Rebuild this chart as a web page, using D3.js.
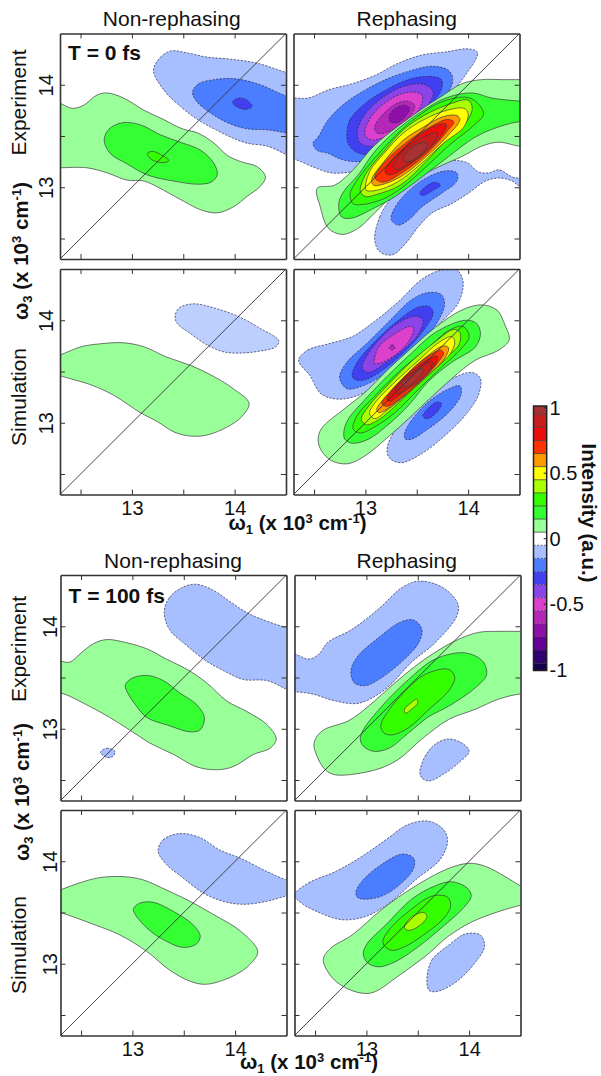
<!DOCTYPE html>
<html><head><meta charset="utf-8">
<script src="https://cdnjs.cloudflare.com/ajax/libs/d3/7.8.5/d3.min.js"></script>
<style>html,body{margin:0;padding:0;background:#fff}svg{display:block}text{font-family:"Liberation Sans",Arial,sans-serif;fill:#111}</style>
</head><body><svg id="c" width="601" height="1076"></svg>
<script>
// Axis values (x 10^3 cm^-1)
const axisDomain = [12.3, 14.5];
const majorTicks = [13, 14];
const allTicks = [12.5, 13, 13.5, 14];
const colorTicks = [1, 0.5, 0, -0.5, -1];
const bandCentres = [-1,-0.9,-0.8,-0.7,-0.6,-0.5,-0.4,-0.3,-0.2,-0.1,0,0.1,0.2,0.3,0.4,0.5,0.6,0.7,0.8,0.9,1];
const levelColour = new Map([[1,"#a83232"],[0.9,"#c81e1e"],[0.8,"#ee0d0d"],[0.7,"#ff3300"],[0.6,"#ff9900"],[0.5,"#ffff00"],[0.4,"#aaff00"],[0.3,"#33ff00"],[0.2,"#33ff33"],[0.1,"#99ff99"],[0,"#ffffff"],
 [-0.1,"#a8bfff"],[-0.2,"#4a7dff"],[-0.3,"#4040f0"],[-0.4,"#8a44e8"],[-0.5,"#dc40cc"],[-0.6,"#b428b8"],[-0.7,"#8f10a8"],[-0.8,"#660099"],[-0.9,"#33006f"],[-1,"#14004f"]]);

// Contours: [level, [[w1,w3],...]]
const expNonReph0 = [
 [0.1,[[12.21,13.85],[12.30,13.82],[12.42,13.77],[12.53,13.80],[12.66,13.90],[12.76,13.92],[12.92,13.87],[13.12,13.75],[13.31,13.66],[13.49,13.57],[13.64,13.53],[13.80,13.43],[13.93,13.31],[14.06,13.25],[14.22,13.20],[14.30,13.10],[14.25,13.01],[14.12,12.91],[13.99,12.81],[13.83,12.75],[13.67,12.78],[13.51,12.86],[13.31,12.97],[13.12,13.06],[12.95,13.07],[12.76,13.14],[12.56,13.19],[12.30,13.19],[12.21,13.19]]],
 [0.2,[[12.73,13.46],[12.78,13.57],[12.91,13.63],[13.08,13.61],[13.28,13.51],[13.47,13.44],[13.67,13.36],[13.80,13.23],[13.83,13.12],[13.77,13.05],[13.64,13.03],[13.41,13.06],[13.15,13.12],[12.95,13.23],[12.79,13.33]]],
 [0.3,[[13.15,13.33],[13.20,13.35],[13.28,13.32],[13.36,13.26],[13.31,13.24],[13.21,13.26],[13.17,13.29]]],
 [-0.1,[[13.21,14.14],[13.28,14.27],[13.38,14.33],[13.54,14.31],[13.73,14.27],[13.96,14.25],[14.22,14.21],[14.5,14.12],[14.61,14.09],[14.61,13.27],[14.5,13.32],[14.32,13.40],[14.12,13.43],[13.96,13.49],[13.80,13.57],[13.64,13.66],[13.47,13.79],[13.31,13.95]]],
 [-0.2,[[13.59,13.93],[13.65,14.01],[13.80,14.05],[13.99,14.06],[14.22,14.01],[14.5,13.89],[14.61,13.85],[14.61,13.51],[14.5,13.53],[14.32,13.56],[14.12,13.57],[13.93,13.63],[13.73,13.75],[13.62,13.85]]],
 [-0.3,[[13.98,13.83],[14.04,13.87],[14.12,13.85],[14.17,13.79],[14.11,13.76],[14.03,13.78]]]
];
const expReph0 = [
 [0.1,[[12.53,12.99],[12.70,13.02],[12.88,13.17],[13.08,13.40],[13.31,13.59],[13.53,13.75],[13.73,13.88],[13.94,14.01],[14.13,14.05],[14.33,14.05],[14.5,14.05],[14.62,14.05],[14.62,13.40],[14.5,13.40],[14.30,13.44],[14.13,13.40],[13.94,13.30],[13.78,13.23],[13.52,13.10],[13.29,12.94],[13.09,12.75],[12.93,12.60],[12.77,12.54],[12.64,12.60],[12.56,12.81]]],
 [0.2,[[12.74,12.84],[12.79,12.96],[12.93,13.12],[13.10,13.36],[13.33,13.58],[13.55,13.74],[13.78,13.87],[14.04,13.92],[14.23,13.87],[14.5,13.84],[14.62,13.83],[14.62,13.64],[14.5,13.64],[14.30,13.59],[14.07,13.49],[13.81,13.30],[13.55,13.10],[13.29,12.91],[13.09,12.80],[12.87,12.70],[12.77,12.71]]],
 [0.3,[[12.85,12.93],[12.90,13.04],[13.06,13.25],[13.14,13.34],[13.35,13.56],[13.55,13.72],[13.76,13.84],[14.02,13.87],[14.15,13.72],[14.04,13.59],[13.84,13.43],[13.58,13.19],[13.35,12.99],[13.16,12.88],[12.96,12.83],[12.88,12.84]]],
 [0.4,[[12.95,12.96],[13.01,13.14],[13.18,13.35],[13.37,13.56],[13.57,13.70],[13.79,13.80],[14.0,13.85],[14.04,13.77],[13.97,13.62],[13.79,13.46],[13.57,13.23],[13.34,13.02],[13.11,12.93],[13.0,12.91]]],
 [0.5,[[13.0,13.01],[13.05,13.17],[13.18,13.33],[13.37,13.53],[13.57,13.66],[13.79,13.75],[13.96,13.77],[14.0,13.72],[13.96,13.59],[13.76,13.43],[13.53,13.22],[13.31,13.05],[13.11,12.97],[13.01,12.97]]],
 [0.6,[[13.06,13.07],[13.18,13.25],[13.37,13.46],[13.57,13.59],[13.76,13.69],[13.89,13.70],[13.92,13.66],[13.79,13.49],[13.57,13.28],[13.34,13.10],[13.14,13.02],[13.08,13.02]]],
 [0.7,[[13.09,13.10],[13.21,13.27],[13.39,13.43],[13.60,13.57],[13.79,13.66],[13.86,13.64],[13.79,13.54],[13.60,13.33],[13.37,13.15],[13.18,13.05],[13.11,13.07]]],
 [0.8,[[13.19,13.15],[13.27,13.28],[13.44,13.44],[13.60,13.56],[13.74,13.62],[13.79,13.61],[13.73,13.49],[13.57,13.33],[13.37,13.18],[13.24,13.12]]],
 [0.9,[[13.27,13.20],[13.35,13.33],[13.48,13.44],[13.61,13.51],[13.70,13.53],[13.68,13.46],[13.57,13.33],[13.42,13.23],[13.31,13.17]]],
 [1,[[13.37,13.28],[13.44,13.38],[13.53,13.43],[13.60,13.43],[13.58,13.36],[13.50,13.29],[13.42,13.25],[13.38,13.25]]],
 [-0.1,[[12.19,13.86],[12.31,13.87],[12.44,13.87],[12.64,13.95],[12.87,14.01],[13.09,14.09],[13.32,14.21],[13.55,14.29],[13.78,14.32],[14.0,14.35],[14.09,14.32],[14.08,14.26],[13.97,14.09],[13.81,13.88],[13.58,13.62],[13.35,13.40],[13.13,13.20],[12.87,13.15],[12.67,13.14],[12.51,13.19],[12.31,13.27],[12.19,13.27]]],
 [-0.2,[[12.49,13.43],[12.54,13.49],[12.64,13.66],[12.80,13.82],[13.0,13.95],[13.22,14.06],[13.45,14.14],[13.65,14.18],[13.81,14.14],[13.85,14.05],[13.78,13.88],[13.61,13.69],[13.39,13.46],[13.16,13.30],[12.93,13.25],[12.77,13.27],[12.64,13.33],[12.53,13.36]]],
 [-0.3,[[12.82,13.53],[12.85,13.66],[13.0,13.82],[13.22,13.96],[13.45,14.06],[13.65,14.08],[13.74,14.05],[13.74,13.95],[13.65,13.82],[13.45,13.59],[13.22,13.40],[13.03,13.32],[12.90,13.35],[12.83,13.43]]],
 [-0.4,[[12.92,13.53],[12.98,13.69],[13.16,13.87],[13.39,13.99],[13.58,14.0],[13.66,13.93],[13.61,13.80],[13.45,13.61],[13.26,13.46],[13.06,13.40],[12.95,13.43]]],
 [-0.5,[[13.0,13.57],[13.08,13.72],[13.26,13.87],[13.44,13.93],[13.55,13.90],[13.55,13.82],[13.44,13.66],[13.26,13.53],[13.08,13.46],[13.0,13.5]]],
 [-0.6,[[13.09,13.59],[13.16,13.70],[13.29,13.81],[13.41,13.84],[13.48,13.80],[13.44,13.70],[13.32,13.59],[13.19,13.53],[13.11,13.53]]],
 [-0.7,[[13.23,13.69],[13.29,13.77],[13.39,13.80],[13.43,13.77],[13.39,13.69],[13.31,13.63],[13.24,13.64]]],
 [-0.1,[[13.09,12.49],[13.14,12.71],[13.26,12.91],[13.45,13.10],[13.65,13.2],[13.84,13.26],[13.99,13.24],[14.10,13.15],[14.20,13.14],[14.30,13.17],[14.43,13.10],[14.5,13.09],[14.62,13.09],[14.62,12.99],[14.5,13.01],[14.43,13.06],[14.30,13.09],[14.17,13.06],[14.0,12.94],[13.84,12.84],[13.65,12.75],[13.52,12.62],[13.39,12.45],[13.26,12.34],[13.14,12.37]]],
 [-0.2,[[13.25,12.71],[13.31,12.84],[13.45,12.99],[13.61,13.10],[13.78,13.16],[13.89,13.14],[13.89,13.06],[13.74,12.94],[13.55,12.81],[13.42,12.68],[13.32,12.63],[13.26,12.67]]],
 [-0.3,[[13.53,12.94],[13.58,13.0],[13.68,13.05],[13.73,13.02],[13.66,12.97],[13.56,12.92]]]
];
const simNonReph0 = [
 [0.1,[[12.21,13.63],[12.30,13.66],[12.5,13.74],[12.69,13.77],[12.92,13.78],[13.12,13.74],[13.34,13.64],[13.57,13.56],[13.80,13.45],[13.99,13.33],[14.14,13.19],[14.07,13.06],[13.93,12.96],[13.73,12.88],[13.57,12.87],[13.41,12.91],[13.25,13.01],[13.08,13.10],[12.82,13.27],[12.6,13.37],[12.30,13.46],[12.21,13.50]]],
 [-0.1,[[13.42,14.04],[13.46,14.12],[13.60,14.16],[13.80,14.12],[14.03,14.04],[14.25,13.92],[14.43,13.80],[14.40,13.74],[14.25,13.70],[14.06,13.68],[13.90,13.69],[13.73,13.76],[13.57,13.87],[13.44,13.97]],"#bccfff"]
];
const simReph0 = [
 [0.1,[[12.54,12.83],[12.57,12.94],[12.80,13.14],[13.0,13.30],[13.22,13.52],[13.45,13.73],[13.68,13.93],[13.94,14.10],[14.13,14.15],[14.28,14.10],[14.36,13.95],[14.40,13.81],[14.30,13.71],[14.07,13.61],[13.84,13.43],[13.61,13.22],[13.42,13.04],[13.22,12.86],[13.0,12.68],[12.83,12.60],[12.67,12.63],[12.57,12.73]]],
 [0.2,[[12.79,12.91],[12.83,13.03],[13.0,13.23],[13.22,13.46],[13.45,13.68],[13.68,13.88],[13.97,14.0],[14.08,13.97],[14.12,13.87],[14.07,13.74],[13.84,13.59],[13.61,13.40],[13.42,13.17],[13.22,12.98],[13.03,12.84],[12.87,12.80],[12.80,12.84]]],
 [0.3,[[12.88,12.94],[12.92,13.07],[13.10,13.27],[13.35,13.52],[13.61,13.73],[13.81,13.90],[13.95,13.94],[14.01,13.84],[13.94,13.73],[13.74,13.54],[13.52,13.33],[13.29,13.10],[13.09,12.96],[12.95,12.90]]],
 [0.4,[[12.96,13.03],[13.03,13.16],[13.22,13.37],[13.45,13.60],[13.68,13.79],[13.86,13.91],[13.92,13.88],[13.91,13.76],[13.74,13.60],[13.52,13.39],[13.32,13.19],[13.13,13.03],[13.01,12.98]]],
 [0.5,[[13.04,13.09],[13.09,13.19],[13.29,13.40],[13.52,13.61],[13.71,13.78],[13.84,13.84],[13.87,13.79],[13.83,13.68],[13.65,13.50],[13.42,13.29],[13.22,13.13],[13.09,13.04]]],
 [0.6,[[13.11,13.13],[13.21,13.27],[13.40,13.47],[13.60,13.65],[13.76,13.75],[13.81,13.73],[13.76,13.61],[13.58,13.44],[13.35,13.24],[13.19,13.12],[13.13,13.10]]],
 [0.7,[[13.16,13.19],[13.26,13.32],[13.45,13.52],[13.63,13.66],[13.73,13.71],[13.76,13.68],[13.70,13.58],[13.53,13.40],[13.34,13.24],[13.21,13.16]]],
 [0.8,[[13.21,13.23],[13.31,13.37],[13.47,13.52],[13.63,13.63],[13.70,13.65],[13.70,13.61],[13.65,13.53],[13.48,13.39],[13.32,13.26],[13.24,13.21]]],
 [0.9,[[13.29,13.30],[13.37,13.42],[13.50,13.52],[13.61,13.59],[13.65,13.59],[13.63,13.52],[13.52,13.40],[13.39,13.32],[13.31,13.28]]],
 [1,[[13.35,13.39],[13.44,13.45],[13.53,13.53],[13.57,13.51],[13.52,13.44],[13.44,13.37],[13.37,13.35]]],
 [-0.1,[[12.35,13.61],[12.44,13.71],[12.64,13.77],[12.87,13.84],[13.09,13.99],[13.32,14.18],[13.55,14.40],[13.74,14.49],[13.89,14.49],[13.95,14.38],[13.91,14.18],[13.71,13.95],[13.48,13.69],[13.22,13.46],[12.96,13.28],[12.74,13.23],[12.57,13.28],[12.46,13.46]]],
 [-0.2,[[12.75,13.46],[12.82,13.59],[13.03,13.79],[13.26,14.02],[13.45,14.20],[13.61,14.27],[13.74,14.25],[13.77,14.15],[13.68,13.95],[13.48,13.71],[13.22,13.50],[13.0,13.37],[12.83,13.33],[12.77,13.38]]],
 [-0.3,[[12.87,13.46],[12.92,13.59],[13.09,13.79],[13.32,14.0],[13.52,14.13],[13.63,14.13],[13.66,14.07],[13.58,13.92],[13.42,13.73],[13.19,13.53],[13.0,13.42],[12.90,13.42]]],
 [-0.4,[[12.97,13.53],[13.0,13.63],[13.16,13.84],[13.35,13.99],[13.50,14.04],[13.56,14.0],[13.52,13.87],[13.39,13.73],[13.19,13.58],[13.03,13.49]]],
 [-0.5,[[13.09,13.63],[13.13,13.74],[13.29,13.87],[13.44,13.94],[13.47,13.91],[13.42,13.79],[13.29,13.66],[13.14,13.58],[13.09,13.58]]],
 [-0.6,[[13.23,13.73],[13.26,13.76],[13.29,13.73],[13.26,13.71]]],
 [-0.1,[[13.21,12.73],[13.26,12.88],[13.42,13.07],[13.61,13.27],[13.84,13.43],[14.04,13.49],[14.12,13.43],[14.10,13.27],[13.97,13.07],[13.78,12.88],[13.55,12.70],[13.35,12.61],[13.24,12.65]]],
 [-0.2,[[13.38,12.89],[13.44,13.01],[13.61,13.20],[13.81,13.33],[13.92,13.36],[13.93,13.27],[13.81,13.10],[13.61,12.94],[13.45,12.84],[13.39,12.84]]],
 [-0.3,[[13.56,13.07],[13.61,13.14],[13.69,13.20],[13.74,13.19],[13.71,13.12],[13.63,13.05],[13.58,13.04]]]
];
const expNonReph100 = [
 [0.1,[[12.19,13.68],[12.30,13.66],[12.39,13.65],[12.49,13.73],[12.62,13.83],[12.75,13.87],[12.94,13.84],[13.14,13.78],[13.33,13.68],[13.53,13.58],[13.72,13.45],[13.92,13.27],[14.11,13.17],[14.31,13.04],[14.40,12.90],[14.34,12.81],[14.18,12.75],[13.98,12.63],[13.82,12.60],[13.62,12.63],[13.40,12.75],[13.17,12.86],[12.97,12.99],[12.78,13.11],[12.58,13.22],[12.30,13.35],[12.19,13.35]]],
 [0.2,[[12.93,13.42],[12.99,13.49],[13.14,13.52],[13.30,13.47],[13.46,13.35],[13.62,13.24],[13.70,13.11],[13.66,12.99],[13.56,12.97],[13.36,13.03],[13.14,13.11],[13.04,13.22],[12.96,13.34]]],
 [-0.1,[[13.31,14.14],[13.36,14.28],[13.49,14.38],[13.62,14.41],[13.79,14.35],[13.95,14.24],[14.14,14.12],[14.49,13.99],[14.6,13.97],[14.6,13.35],[14.49,13.39],[14.31,13.47],[14.08,13.48],[13.92,13.55],[13.72,13.66],[13.53,13.81],[13.36,13.97]]],
 [-0.1,[[12.69,12.77],[12.75,12.81],[12.83,12.78],[12.81,12.73],[12.75,12.72]]]
];
const expReph100 = [
 [0.1,[[12.49,12.86],[12.57,12.98],[12.83,13.08],[13.02,13.22],[13.28,13.45],[13.57,13.68],[13.87,13.86],[14.09,13.94],[14.29,13.95],[14.5,13.95],[14.61,13.95],[14.61,13.34],[14.5,13.34],[14.29,13.29],[14.06,13.19],[13.80,13.09],[13.54,12.90],[13.31,12.70],[13.09,12.60],[12.70,12.55],[12.60,12.60],[12.52,12.73]]],
 [0.2,[[12.94,12.90],[12.97,12.99],[13.15,13.22],[13.41,13.48],[13.67,13.68],[13.96,13.74],[14.13,13.66],[14.17,13.53],[14.06,13.40],[13.80,13.22],[13.61,13.12],[13.41,12.96],[13.22,12.81],[13.07,12.78],[12.97,12.83]]],
 [0.3,[[13.14,13.03],[13.19,13.14],[13.38,13.37],[13.57,13.53],[13.80,13.58],[13.86,13.5],[13.80,13.37],[13.61,13.19],[13.41,13.01],[13.25,12.94],[13.17,12.96]]],
 [0.4,[[13.37,13.19],[13.43,13.25],[13.49,13.29],[13.50,13.25],[13.44,13.19],[13.38,13.15]]],
 [-0.1,[[12.18,13.75],[12.30,13.73],[12.44,13.68],[12.54,13.73],[12.62,13.84],[12.86,13.97],[13.12,14.17],[13.35,14.38],[13.51,14.44],[13.74,14.38],[13.89,14.22],[13.88,14.10],[13.67,13.84],[13.44,13.65],[13.19,13.39],[12.93,13.25],[12.70,13.27],[12.47,13.34],[12.30,13.36],[12.18,13.36]]],
 [-0.2,[[12.85,13.57],[12.91,13.70],[13.12,13.89],[13.33,14.04],[13.46,14.06],[13.54,13.97],[13.51,13.84],[13.35,13.66],[13.15,13.5],[12.99,13.42],[12.88,13.45]]],
 [-0.1,[[13.52,12.57],[13.57,12.73],[13.67,12.85],[13.80,12.90],[13.93,12.86],[14.0,12.78],[13.90,12.67],[13.77,12.57],[13.61,12.49],[13.54,12.52]]]
];
const simNonReph100 = [
 [0.1,[[12.19,13.67],[12.30,13.72],[12.49,13.79],[12.68,13.84],[12.91,13.85],[13.10,13.82],[13.33,13.72],[13.56,13.61],[13.79,13.48],[14.05,13.32],[14.22,13.12],[14.14,12.99],[13.98,12.88],[13.72,12.80],[13.56,12.83],[13.36,12.94],[13.14,13.12],[12.88,13.28],[12.58,13.40],[12.30,13.50],[12.19,13.53]]],
 [0.2,[[13.01,13.53],[13.07,13.59],[13.20,13.60],[13.40,13.51],[13.59,13.38],[13.66,13.27],[13.62,13.19],[13.49,13.16],[13.33,13.22],[13.14,13.35]]],
 [-0.1,[[13.25,14.10],[13.30,14.21],[13.46,14.27],[13.66,14.23],[13.85,14.11],[14.05,14.03],[14.31,13.90],[14.49,13.82],[14.6,13.79],[14.6,13.69],[14.49,13.66],[14.31,13.61],[14.08,13.58],[13.88,13.61],[13.69,13.69],[13.49,13.84],[13.33,13.97]]]
];
const simReph100 = [
 [0.1,[[12.58,13.04],[12.65,13.15],[12.86,13.28],[13.15,13.53],[13.48,13.76],[13.80,13.93],[14.0,13.98],[14.16,13.95],[14.35,13.85],[14.5,13.76],[14.61,13.71],[14.61,13.59],[14.5,13.57],[14.29,13.51],[14.03,13.41],[13.80,13.27],[13.57,13.07],[13.31,12.88],[13.09,12.73],[12.99,12.71],[12.83,12.75],[12.67,12.86]]],
 [0.2,[[12.97,13.10],[13.01,13.20],[13.19,13.38],[13.44,13.63],[13.67,13.76],[13.83,13.80],[13.98,13.74],[14.02,13.66],[13.93,13.53],[13.74,13.36],[13.51,13.17],[13.28,13.02],[13.12,12.97],[13.01,13.01]]],
 [0.3,[[13.16,13.22],[13.22,13.33],[13.41,13.51],[13.64,13.66],[13.79,13.65],[13.82,13.56],[13.74,13.43],[13.54,13.27],[13.38,13.17],[13.25,13.13],[13.18,13.17]]],
 [0.4,[[13.37,13.36],[13.43,13.45],[13.56,13.50],[13.59,13.46],[13.54,13.39],[13.44,13.33],[13.39,13.33]]],
 [-0.1,[[12.30,13.67],[12.44,13.79],[12.70,13.90],[12.96,14.05],[13.19,14.21],[13.41,14.36],[13.61,14.39],[13.75,14.31],[13.79,14.20],[13.72,14.02],[13.48,13.82],[13.22,13.59],[12.99,13.46],[12.76,13.43],[12.54,13.50],[12.37,13.59]]],
 [-0.2,[[12.90,13.71],[12.97,13.82],[13.15,13.97],[13.35,14.07],[13.46,14.03],[13.46,13.93],[13.31,13.76],[13.15,13.66],[12.99,13.63],[12.91,13.65]]],
 [-0.1,[[13.59,12.87],[13.64,13.04],[13.80,13.18],[13.96,13.29],[14.11,13.28],[14.15,13.17],[14.05,13.0],[13.87,12.82],[13.69,12.73],[13.61,12.74]]]
];

const PW = 226, PH = 225.5;
const layout = [
 {data:expNonReph0,  x:60,   y:33.5},
 {data:expReph0,     x:293.5,y:33.5},
 {data:simNonReph0,  x:60,   y:269, bottom:true},
 {data:simReph0,     x:293.5,y:269, bottom:true},
 {data:expNonReph100,x:60.5, y:575},
 {data:expReph100,   x:294.5,y:575},
 {data:simNonReph100,x:60.5, y:810, bottom:true},
 {data:simReph100,   x:294.5,y:810, bottom:true}
];
layout.forEach((p,i)=>{p.left=i%2===0;});

const svg = d3.select("#c");
const defs = svg.append("defs");
const frameCol = "#333";

layout.forEach((p,i)=>{
  const xs = d3.scaleLinear().domain(axisDomain).range([p.x,p.x+PW]);
  const ys = d3.scaleLinear().domain(axisDomain).range([p.y+PH,p.y]);
  defs.append("clipPath").attr("id","cp"+i).append("rect")
    .attr("x",p.x).attr("y",p.y).attr("width",PW).attr("height",PH);
  const g = svg.append("g").attr("clip-path",`url(#cp${i})`);
  const line = d3.line().x(d=>xs(d[0])).y(d=>ys(d[1])).curve(d3.curveCatmullRomClosed.alpha(0.5));
  // negative lobes first: the positive ridge lies on top of them where they meet
  const ordered = [...p.data.filter(d=>d[0]<0), ...p.data.filter(d=>d[0]>0)];
  g.selectAll("path").data(ordered).join("path")
    .attr("d",d=>line(d[1]))
    .attr("fill",d=>d[2]||levelColour.get(d[0]))
    .attr("stroke",d=>d[0]>0?"#3c3c3c":"#2a2a50")
    .attr("stroke-width",0.7)
    .attr("stroke-dasharray",d=>d[0]>0?null:"2.2,1.4");
  g.append("line").attr("x1",xs(axisDomain[0])).attr("y1",ys(axisDomain[0]))
    .attr("x2",xs(axisDomain[1])).attr("y2",ys(axisDomain[1]))
    .attr("stroke","#333").attr("stroke-width",0.9);

  const fmt = v=>majorTicks.includes(v)?String(v):"";
  const axB = svg.append("g").attr("transform",`translate(0,${p.y+PH})`)
    .call(d3.axisBottom(xs).tickValues(allTicks).tickSizeInner(-5).tickSizeOuter(0).tickPadding(9).tickFormat(p.bottom?fmt:()=>""));
  const axT = svg.append("g").attr("transform",`translate(0,${p.y})`)
    .call(d3.axisTop(xs).tickValues(allTicks).tickSizeInner(-5).tickSizeOuter(0).tickFormat(()=>""));
  const axL = svg.append("g").attr("transform",`translate(${p.x},0)`)
    .call(d3.axisLeft(ys).tickValues(allTicks).tickSizeInner(-5).tickSizeOuter(0).tickFormat(p.left?fmt:()=>""));
  const axR = svg.append("g").attr("transform",`translate(${p.x+PW},0)`)
    .call(d3.axisRight(ys).tickValues(allTicks).tickSizeInner(-5).tickSizeOuter(0).tickFormat(()=>""));
  [axB,axT,axL,axR].forEach(a=>{
    a.selectAll(".domain").attr("stroke",frameCol).attr("stroke-width",1.6);
    a.selectAll(".tick line").attr("stroke",frameCol).attr("stroke-width",1);
    a.attr("font-family",null).attr("font-size",null);
  });
  axB.selectAll("text").attr("font-size",20).attr("dy",null).attr("y",20.5);
  const tx = p.left ? (p.y<500 ? -7 : -3.5) : 0;
  axL.selectAll(".tick text").attr("font-size",20).attr("text-anchor","middle").attr("dy",null)
    .attr("x",null)
    .attr("transform",`translate(${tx},0) rotate(-90)`);
});

function text(x,y,s,o={}){
  const t = svg.append("text").attr("x",x).attr("y",y).attr("font-size",o.size||21)
    .attr("text-anchor",o.anchor||"middle").attr("font-weight",o.bold?"bold":null);
  if(o.rot!==undefined) t.attr("transform",`rotate(${o.rot} ${x} ${y})`);
  t.text(s); return t;
}
text(171.7,26,"Non-rephasing"); text(406.7,26,"Rephasing");
text(173,567.7,"Non-rephasing"); text(406.7,567.7,"Rephasing");
text(26,102.5,"Experiment",{rot:-90}); text(26,397,"Simulation",{rot:-90});
text(26,649,"Experiment",{rot:-90}); text(26,945,"Simulation",{rot:-90});
text(68,60,"T = 0 fs",{bold:true,anchor:"start"});
text(68.5,603,"T = 100 fs",{bold:true,anchor:"start"});

function axisTitle(x,y,sub,rot){
  const t = svg.append("text").attr("x",x).attr("y",y).attr("font-size",20.5).attr("font-weight","bold")
    .attr("text-anchor","middle");
  if(rot) t.attr("transform",`rotate(${rot} ${x} ${y})`);
  t.append("tspan").text("ω");
  t.append("tspan").attr("font-size",13).attr("dy",4).text(sub);
  t.append("tspan").attr("dy",-4).text(" (x 10");
  t.append("tspan").attr("font-size",13).attr("dy",-7).text("3");
  t.append("tspan").attr("dy",7).text(" cm");
  t.append("tspan").attr("font-size",13).attr("dy",-7).text("-1");
  t.append("tspan").attr("dy",7).text(")");
}
axisTitle(297.5,530,"1"); axisTitle(309,1069,"1");
axisTitle(28,251,"3",-90); axisTitle(29,792,"3",-90);

// colour bar
const cb = d3.scaleLinear().domain([-1,1]).range([669.7,407.7]);
const cx0 = 533.5, cw = 13.2, halfBand = 0.05, barTop = 406, barBot = 670.5;
const barG = svg.append("g");
barG.selectAll("rect").data(bandCentres).join("rect")
  .attr("x",cx0).attr("width",cw)
  .attr("y",d=>Math.max(barTop,cb(d+halfBand)))
  .attr("height",d=>Math.min(barBot,cb(d-halfBand))-Math.max(barTop,cb(d+halfBand)))
  .attr("fill",d=>levelColour.get(d));
barG.selectAll("line.sep").data(bandCentres.slice(0,-1)).join("line").attr("class","sep")
  .attr("x1",cx0).attr("x2",cx0+cw)
  .attr("y1",d=>cb(d+halfBand)).attr("y2",d=>cb(d+halfBand))
  .attr("stroke","#333").attr("stroke-width",0.7)
  .attr("stroke-dasharray",d=>d+halfBand<0?"2,1.5":null);
barG.append("rect").attr("x",cx0).attr("y",barTop).attr("width",cw).attr("height",barBot-barTop)
  .attr("fill","none").attr("stroke","#222").attr("stroke-width",1.5);
barG.selectAll("line.tk").data(colorTicks).join("line").attr("class","tk")
  .attr("x1",cx0+cw-3).attr("x2",cx0+cw).attr("y1",d=>cb(d)).attr("y2",d=>cb(d))
  .attr("stroke","#222");
barG.selectAll("text").data(colorTicks).join("text")
  .attr("x",549.5).attr("y",d=>cb(d)).attr("dy","0.36em").attr("font-size",20)
  .text(d=>String(d));
text(582,513,"Intensity (a.u.)",{bold:true,rot:90,size:20.5});
</script></body></html>
